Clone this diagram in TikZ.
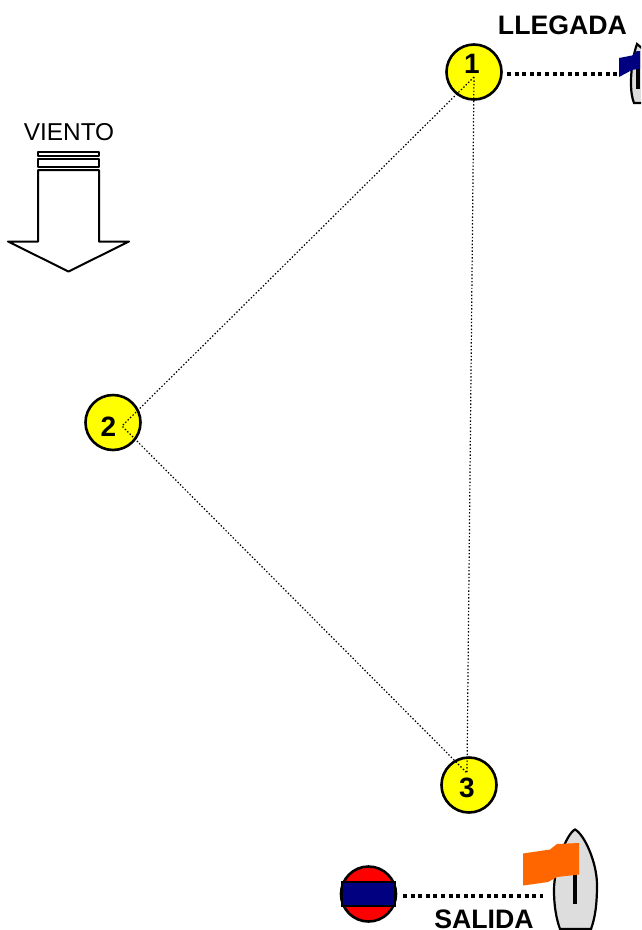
\documentclass[tikz,border=0pt]{standalone}
\usepackage{fontspec}
\setmainfont{Liberation Sans}
\definecolor{navyflag}{RGB}{0,0,128}
\definecolor{orangeflag}{RGB}{255,102,0}
\definecolor{hull}{RGB}{221,221,221}
\definecolor{buoyyellow}{RGB}{255,255,0}
\definecolor{buoyred}{RGB}{255,0,0}
\tikzset{
  markbuoy/.style={circle,draw=black,line width=2.6pt,fill=buoyyellow,minimum size=55pt,inner sep=0pt},
  numlab/.style={font=\fontsize{28}{28}\selectfont\bfseries,inner sep=0pt},
  thin dot/.style={line width=1.2pt,dash pattern=on 1.4pt off 2pt},
  thick dot/.style={line width=4pt,dash pattern=on 4pt off 3.6pt},
  boat/.style={draw=black,line width=2.2pt,fill=hull},
  boldlab/.style={font=\fontsize{26.7}{27}\selectfont\bfseries,inner sep=0pt},
  windline/.style={line width=2pt,line join=round},
  mast/.style={line width=3.8pt},
}
\begin{document}
\begin{tikzpicture}[x=1pt,y=-1pt]
\useasboundingbox (0,0) rectangle (641,930);
\clip (0,0) rectangle (641,930);
% marks
\node[markbuoy] (m1) at (474,72) {};
\node[markbuoy] (m2) at (113,422.5) {};
\node[markbuoy] (m3) at (469,785) {};
\node[numlab] (n1) at (472,64) {1};
\node[numlab] (n2) at (108.5,427) {2};
\node[numlab] (n3) at (467,788) {3};
% course
\coordinate (c1) at (474,77);
\coordinate (c2) at (122,426);
\coordinate (c3) at (467,773);
\draw[thin dot] (c1) -- (c2) -- (c3) -- (c1);
% wind
\node[font=\fontsize{24.4}{25}\selectfont,inner sep=0pt] (vlab) at (69,132) {VIENTO};
\draw[windline] (38,151.5) rectangle (99,155.5);
\draw[windline] (38,159) rectangle (99,166.5);
\draw[windline] (38,170) -- (99,170) -- (99,241.5) -- (129,241.5) -- (68.5,271.5) -- (8,241.5) -- (38,241.5) -- cycle;
% finish
\node[boldlab] (llegada) at (562.5,25.5) {LLEGADA};
\draw[boat] (637,44) .. controls (634,52) and (631,68) .. (631,82) .. controls (631,92) and (632,98) .. (634,103) -- (665,103) .. controls (668,98) and (670,90) .. (670,82) .. controls (670,68) and (646,52) .. (637,44) -- cycle;
\draw[mast] (638,68) -- (638,89);
\fill[navyflag] (619,58) -- (632,55.5) -- (637,51) -- (640,51) -- (640,68.5) -- (632,70) -- (619,77) -- cycle;
\coordinate (f1) at (617,73.5);
\coordinate (f1s) at (507,73.5);
\draw[thick dot] (f1s) -- (f1);
% start
\node[markbuoy,fill=buoyred] (buoy) at (368.5,894) {};
\draw[line width=2pt,fill=navyflag] (341.5,881.7) rectangle (394.5,906);
\node[boldlab] (salida) at (484,919.5) {SALIDA};
\draw[boat] (575,829.5) .. controls (566,834) and (554,868) .. (554,890) .. controls (554,905) and (556,918) .. (560,929) -- (591,929) .. controls (595,918) and (597,905) .. (597,885) .. controls (597,862) and (584,834) .. (575,829.5) -- cycle;
\draw[mast] (575,872) -- (575,904);
\fill[orangeflag] (523,853.5) -- (550,849.5) -- (557,844) -- (579,843) -- (579,874.5) -- (557,877) -- (548,882) -- (523,885.5) -- cycle;
\coordinate (f2) at (543,895.5);
\coordinate (f2s) at (403,895.5);
\draw[thick dot] (f2s) -- (f2);
\end{tikzpicture}
\end{document}
